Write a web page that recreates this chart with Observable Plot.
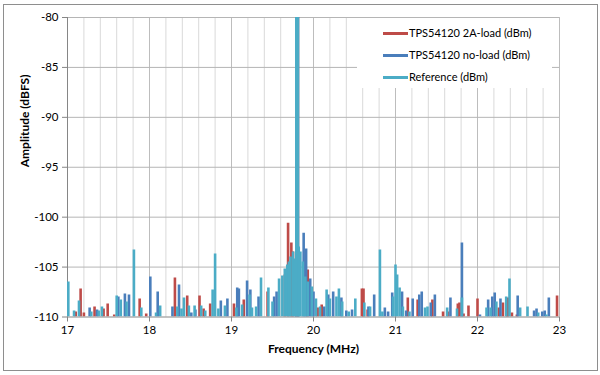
<!DOCTYPE html>
<html><head><meta charset="utf-8">
<script src="https://cdn.jsdelivr.net/npm/d3@7"></script>
<script src="https://cdn.jsdelivr.net/npm/@observablehq/plot@0.6"></script>
<style>
body{margin:0;background:#fff;}
#wrap{position:relative;width:600px;height:375px;font-family:Lato,"Open Sans",sans-serif;}
#border{position:absolute;left:3px;top:4px;width:593px;height:365px;border:1.5px solid #8e8e8e;pointer-events:none;}
#legend{position:absolute;left:357px;top:18px;width:195px;height:70px;background:#fff;font-size:11px;color:#000;}
.row{position:absolute;left:26px;height:14px;line-height:14px;white-space:nowrap;}
.sw{display:inline-block;width:25px;height:3px;vertical-align:middle;margin-right:1px;position:relative;top:-1px;}
</style></head>
<body><div id="wrap"></div>
<script>
// Axis ticks
const freqTicks = [17, 18, 19, 20, 21, 22, 23];
const ampTicks = [-110, -105, -100, -95, -90, -85, -80];

// TPS54120 2A-load (dBm)
const redFreq = [17.10,17.16,17.20,17.33,17.44,17.49,17.57,17.88,17.96,18.31,18.46,18.61,18.66,18.74,19.03,19.15,19.44,19.65,19.69,19.73,19.75,19.80,19.93,20.05,20.10,20.59,20.61,20.66,21.15,21.27,21.45,21.58,21.64,21.76,21.78,21.83,21.89,22.00,22.26,22.31,22.36,22.37,22.42,22.48,22.97];
const redAmp  = [-109.5,-107.2,-109.6,-109.0,-109.2,-108.7,-109.8,-108.2,-109.7,-106.1,-107.9,-107.9,-109.2,-108.7,-108.7,-108.3,-107.5,-105.8,-100.6,-102.6,-103.5,-60,-105.3,-109.1,-108.8,-107.2,-107.2,-109.3,-108.1,-108.3,-108.3,-109.5,-109.5,-108.7,-108.6,-109.7,-108.9,-108.2,-109.1,-108.6,-108.7,-108.1,-109.6,-109.8,-107.9];

// TPS54120 no-load (dBm)
const blueFreq = [17.27,17.36,17.62,17.70,17.75,18.01,18.10,18.28,18.36,18.51,18.56,18.87,18.95,19.07,19.09,19.19,19.23,19.33,19.52,19.55,19.80,19.88,19.91,19.96,20.00,20.13,20.18,20.24,20.34,20.40,20.47,20.67,20.74,20.87,20.91,20.96,21.08,21.13,21.21,21.29,21.32,21.43,21.48,21.67,21.81,22.03,22.13,22.18,22.21,22.28,22.49,22.69,22.72,22.79,22.82,22.87];
const blueAmp  = [-109.1,-109.3,-108.0,-107.7,-107.8,-106.0,-107.5,-109.0,-106.8,-109.6,-109.3,-108.4,-108.2,-107.1,-107.2,-106.4,-107.3,-108.0,-108.0,-107.5,-60,-101.6,-103.2,-106.2,-107.5,-109.0,-107.8,-107.5,-108.1,-109.4,-109.3,-109.0,-107.8,-109.1,-109.5,-107.6,-107.5,-109.4,-108.2,-107.8,-107.5,-108.6,-107.8,-108.1,-102.6,-109.8,-108.3,-108.0,-107.6,-108.2,-107.9,-109.4,-109.2,-109.5,-109.4,-108.1];

// Reference (dBm)
const tealFreq = [17.01,17.08,17.14,17.29,17.38,17.42,17.60,17.65,17.72,17.81,17.90,18.08,18.13,18.34,18.39,18.42,18.48,18.55,18.63,18.68,18.77,18.80,18.84,18.92,19.06,19.13,19.22,19.25,19.30,19.36,19.45,19.50,19.58,19.62,19.65,19.68,19.70,19.72,19.75,19.77,19.80,19.82,19.84,19.87,19.90,19.93,19.98,20.03,20.08,20.16,20.20,20.28,20.31,20.35,20.43,20.51,20.62,20.69,20.81,20.84,20.97,21.00,21.02,21.05,21.09,21.17,21.36,21.39,21.63,21.75,21.81,22.11,22.16,22.23,22.35,22.39,22.52,22.61,22.74,22.84];
const tealAmp  = [-106.5,-109.4,-108.4,-109.5,-109.4,-109.0,-107.9,-108.3,-108.5,-103.3,-109.1,-109.6,-108.9,-109.0,-109.2,-108.1,-108.9,-108.9,-108.9,-109.4,-107.3,-103.7,-109.2,-108.9,-109.1,-108.8,-107.8,-109.1,-109.0,-106.1,-107.1,-108.5,-106.2,-105.9,-105.2,-104.8,-104.5,-104.0,-103.5,-104.2,-60,-103.0,-103.5,-104.5,-106.0,-106.5,-107.0,-108.2,-109.0,-107.3,-108.2,-108.0,-107.2,-108.5,-109.5,-108.2,-108.6,-109.0,-103.3,-109.5,-108.0,-104.8,-105.8,-107.1,-109.0,-109.5,-109.1,-109.0,-109.1,-109.2,-108.1,-109.1,-109.1,-108.5,-108.0,-106.2,-109.1,-109.0,-109.6,-109.8];

const seriesNames = ["TPS54120 2A-load (dBm)", "TPS54120 no-load (dBm)", "Reference (dBm)"];
const seriesColors = ["#BE4B48", "#4A7EBB", "#4BACC6"];

const toRows = (fs, vs) => fs.map((f, i) => ({f, v: vs[i]}));
const red = toRows(redFreq, redAmp);
const blue = toRows(blueFreq, blueAmp);
const teal = toRows(tealFreq, tealAmp);
const minorX = d3.range(0, 31).map(i => +(17 + i * 0.2).toFixed(1));
const FLOOR = -110;

const spikes = (data, color) => Plot.ruleX(data, {
  x: "f", y1: FLOOR, y2: "v", stroke: color,
  strokeWidth: d => d.v > -80 ? 4.2 : 2.6, clip: true
});

const chart = Plot.plot({
  width: 600, height: 375,
  marginLeft: 67, marginRight: 41, marginTop: 17, marginBottom: 58.5,
  x: {domain: [17, 23], label: null},
  y: {domain: [-110, -80], label: null},
  style: {fontFamily: "Lato, 'Open Sans', sans-serif", fontSize: "11.5px", color: "#000", background: "transparent"},
  marks: [
    Plot.gridX(minorX.filter(d => !freqTicks.includes(d)), {stroke: "#D9D9D9", strokeOpacity: 1}),
    Plot.gridX(freqTicks.slice(1), {stroke: "#BDBDBD", strokeOpacity: 1}),
    Plot.gridY(ampTicks.slice(1), {stroke: "#B5B5B5", strokeOpacity: 1}),
    Plot.axisX(freqTicks, {tickSize: 5, tickPadding: 4, stroke: "#868686", fill: "#000", tickFormat: d => String(d)}),
    Plot.axisY(ampTicks, {tickSize: 5, tickPadding: 4, stroke: "#868686", fill: "#000", tickFormat: d => String(d)}),
    Plot.ruleX([17], {stroke: "#868686"}),
    Plot.ruleY([-110], {stroke: "#868686"}),
    spikes(red, seriesColors[0]),
    spikes(blue, seriesColors[1]),
    spikes(teal, seriesColors[2]),
    Plot.text(["Amplitude (dBFS)"], {frameAnchor: "left", dx: -42, rotate: -90, fontWeight: "bold", fontSize: 12}),
    Plot.text(["Frequency (MHz)"], {frameAnchor: "bottom", dy: 35.5, fontWeight: "bold", fontSize: 12})
  ]
});

const wrap = document.getElementById("wrap");
wrap.appendChild(chart);
const legend = document.createElement("div");
legend.id = "legend";
const rowTops = [8, 30, 52];
seriesNames.forEach((n, i) => {
  const r = document.createElement("div");
  r.className = "row";
  r.style.top = rowTops[i] + "px";
  r.innerHTML = `<span class="sw" style="background:${seriesColors[i]}"></span>${n}`;
  legend.appendChild(r);
});
wrap.appendChild(legend);
const b = document.createElement("div");
b.id = "border";
wrap.appendChild(b);
</script></body></html>
